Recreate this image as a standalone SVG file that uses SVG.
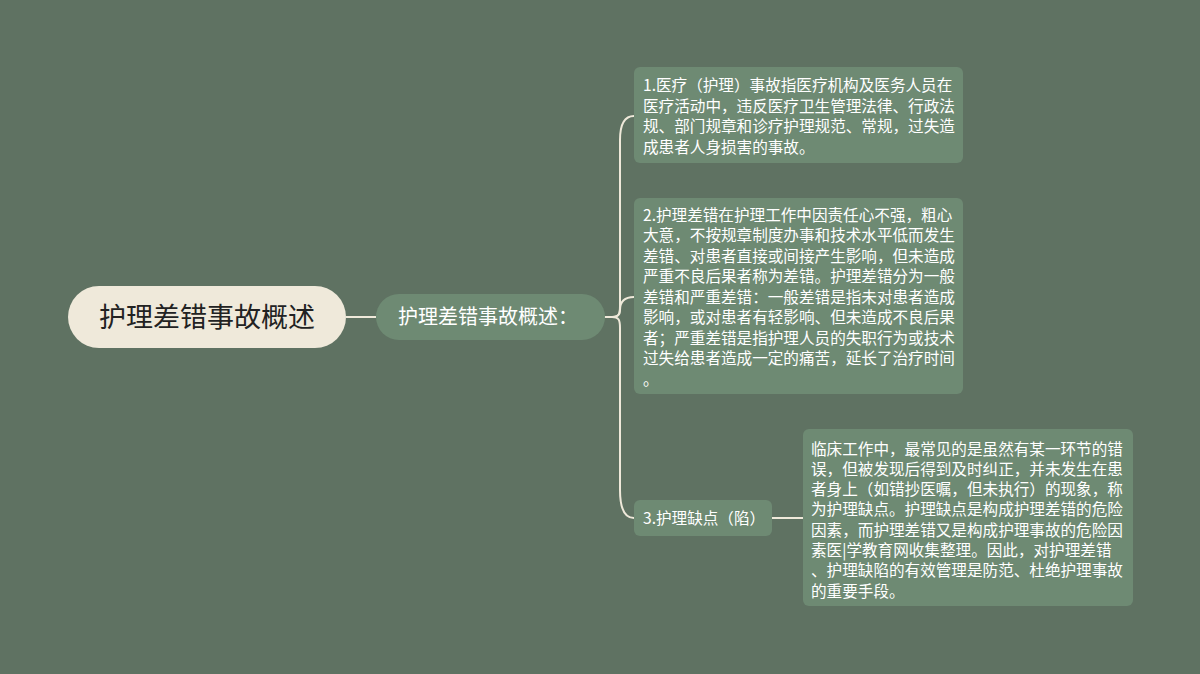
<svg xmlns="http://www.w3.org/2000/svg" width="1200" height="674" viewBox="0 0 1200 674">
<style>
.txt{font-family:"Noto Sans CJK SC","Noto Sans",sans-serif;}
.body{font-size:15.6px;fill:#ffffff;}
.box{fill:#6e8a73;}
.conn{fill:none;stroke:#efe9da;stroke-width:2;}
</style>
<rect width="1200" height="674" fill="#5f7262"/>
<g id="connectors">
<path class="conn" d="M346 317 H376"/>
<path class="conn" d="M604 317 H612 C619 317 620 314 620 306 V140 C620 124 624 116 634 116"/>
<path class="conn" d="M612 317 C619 317 620 314 620 310 C620 302 624 297 634 297"/>
<path class="conn" d="M612 317 C619 317 620 320 620 328 V490 C620 508 624 518 634 518"/>
<path class="conn" d="M772 518 H803"/>
</g>
<g id="root">
<rect x="68" y="286" width="278" height="62" rx="31" fill="#efe9da"/>
<text class="txt" x="207" y="326.5" font-size="27" fill="#222222" text-anchor="middle">护理差错事故概述</text>
</g>
<g id="sub">
<rect x="376" y="294" width="229" height="46" rx="23" class="box"/>
<text class="txt" x="398" y="324" font-size="20" fill="#ffffff">护理差错事故概述：</text>
</g>
<g id="child1">
<rect x="634" y="67" width="329" height="96" rx="6" class="box"/>
<text class="txt body">
<tspan x="643" y="91">1.医疗（护理）事故指医疗机构及医务人员在</tspan>
<tspan x="643" y="111.6">医疗活动中，违反医疗卫生管理法律、行政法</tspan>
<tspan x="643" y="132.2">规、部门规章和诊疗护理规范、常规，过失造</tspan>
<tspan x="643" y="152.8">成患者人身损害的事故。</tspan>
</text>
</g>
<g id="child2">
<rect x="634" y="198" width="329" height="196" rx="6" class="box"/>
<text class="txt body">
<tspan x="643" y="220.5">2.护理差错在护理工作中因责任心不强，粗心</tspan>
<tspan x="643" y="241">大意，不按规章制度办事和技术水平低而发生</tspan>
<tspan x="643" y="261.5">差错、对患者直接或间接产生影响，但未造成</tspan>
<tspan x="643" y="282">严重不良后果者称为差错。护理差错分为一般</tspan>
<tspan x="643" y="302.5">差错和严重差错：一般差错是指未对患者造成</tspan>
<tspan x="643" y="323">影响，或对患者有轻影响、但未造成不良后果</tspan>
<tspan x="643" y="343.5">者；严重差错是指护理人员的失职行为或技术</tspan>
<tspan x="643" y="364">过失给患者造成一定的痛苦，延长了治疗时间</tspan>
<tspan x="643" y="384.5">。</tspan>
</text>
</g>
<g id="child3">
<rect x="634" y="500" width="138" height="36" rx="6" class="box"/>
<text class="txt body" x="643" y="523.5">3.护理缺点（陷）</text>
</g>
<g id="leaf">
<rect x="803" y="429" width="330" height="177" rx="6" class="box"/>
<text class="txt body">
<tspan x="811" y="454.5">临床工作中，最常见的是虽然有某一环节的错</tspan>
<tspan x="811" y="474.8">误，但被发现后得到及时纠正，并未发生在患</tspan>
<tspan x="811" y="495.1">者身上（如错抄医嘱，但未执行）的现象，称</tspan>
<tspan x="811" y="515.4">为护理缺点。护理缺点是构成护理差错的危险</tspan>
<tspan x="811" y="535.7">因素，而护理差错又是构成护理事故的危险因</tspan>
<tspan x="811" y="556">素医|学教育网收集整理。因此，对护理差错</tspan>
<tspan x="811" y="576.3">、护理缺陷的有效管理是防范、杜绝护理事故</tspan>
<tspan x="811" y="596.6">的重要手段。</tspan>
</text>
</g>
</svg>
